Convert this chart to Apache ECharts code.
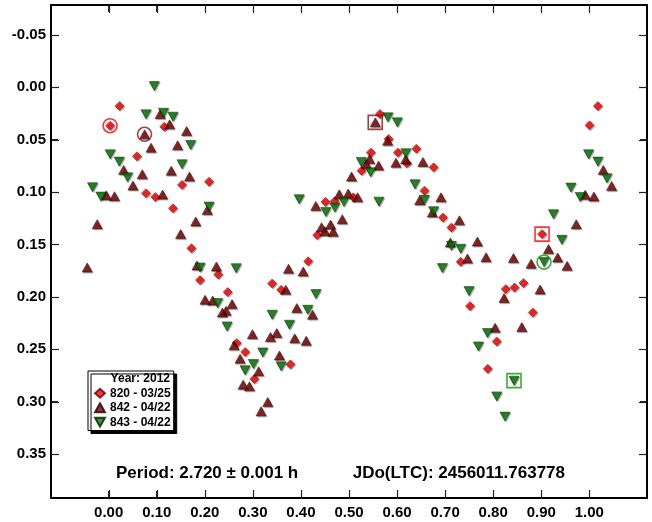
<!DOCTYPE html>
<html><head><meta charset="utf-8">
<script src="https://cdn.jsdelivr.net/npm/echarts@6/dist/echarts.min.js"></script>
<style>html,body{margin:0;padding:0;background:#fff}#c{width:652px;height:522px}</style>
</head><body><div id="c"></div>
<script>
const seriesNames = ['820 - 03/25', '842 - 04/22', '843 - 04/22'];
const legendTitle = 'Year: 2012';
const infoPeriod = 'Period: 2.720 ± 0.001 h';
const infoEpoch = 'JDo(LTC): 2456011.763778';
const xTicks = [0, 0.1, 0.2, 0.3, 0.4, 0.5, 0.6, 0.7, 0.8, 0.9, 1.0];
const yTicks = [-0.05, 0, 0.05, 0.1, 0.15, 0.2, 0.25, 0.3, 0.35];
const xRange = [-0.12, 1.12];
const yRange = [-0.0786, 0.392];

const s820 = [
[0.0225,0.0178],[0.003,0.0366],[0.1156,0.0375],[0.0587,0.0658],[0.2087,0.090],[0.1525,0.0931],
[0.0775,0.101],[0.0969,0.1046],[0.1337,0.1154],[0.172,0.1535],[0.415,0.166],[0.19,0.184],
[0.228,0.1786],[0.34,0.1872],[0.3587,0.1932],[0.2476,0.1954],[0.2663,0.244],[0.284,0.2526],
[0.378,0.2644],[0.303,0.2784],[0.5642,0.0255],[0.5823,0.0493],[0.5454,0.0623],[0.6017,0.0623],
[0.64,0.0585],[0.6204,0.0725],[0.676,0.0763],[0.526,0.0795],[0.657,0.0986],[0.451,0.1093],
[0.47,0.1087],[0.5088,0.1049],[0.6954,0.1243],[0.713,0.1338],[0.4337,0.141],[0.7323,0.1665],
[1.0177,0.0178],[1.0004,0.0362],[0.9017,0.1401],[0.826,0.1926],[0.8442,0.191],[0.8629,0.1868],
[0.7517,0.2088],[0.8823,0.2149],[0.8073,0.2425],[0.7885,0.2686]
];
const s842 = [
[0.107,0.0255],[0.1267,0.0353],[0.0746,0.0448],[0.162,0.0417],[0.088,0.0576],[0.1433,0.0553],
[0.031,0.0788],[0.0698,0.083],[0.130,0.0795],[0.168,0.0852],[0.0504,0.0938],[-0.0052,0.103],
[0.012,0.1039],[0.112,0.1024],[0.205,0.117],[0.181,0.128],[-0.024,0.1306],[0.1496,0.140],
[-0.0448,0.172],[0.1837,0.170],[0.224,0.171],[0.374,0.1732],[0.4046,0.1758],[0.3684,0.1932],
[0.2004,0.2028],[0.2163,0.2034],[0.2566,0.2069],[0.244,0.2133],[0.2365,0.2149],[0.3913,0.2107],
[0.424,0.217],[0.299,0.2356],[0.3496,0.2345],[0.3365,0.2383],[0.387,0.2396],[0.4108,0.2419],
[0.2608,0.2463],[0.2733,0.259],[0.3552,0.2559],[0.312,0.271],[0.2796,0.2838],[0.2927,0.2854],
[0.3308,0.3003],[0.317,0.3092],[0.5546,0.0334],[0.5802,0.0509],[0.5427,0.0684],[0.5358,0.0731],
[0.5615,0.0747],[0.5975,0.0719],[0.6177,0.0686],[0.6537,0.0712],[0.5052,0.0852],[0.4796,0.1020],
[0.4983,0.1014],[0.5177,0.1049],[0.4308,0.1132],[0.6469,0.1077],[0.6912,0.1049],[0.6733,0.1195],
[0.4858,0.1259],[0.4427,0.1335],[0.4615,0.131],[0.4496,0.1373],[0.467,0.1379],[0.7296,0.1269],
[0.7108,0.1481],[0.7463,0.1634],[1.0288,0.0788],[1.0462,0.0941],[0.9913,0.1026],[1.0094,0.1042],
[0.9726,0.1306],[0.767,0.1472],[0.785,0.1621],[0.842,0.163],[0.915,0.1544],[0.934,0.1624],
[0.8788,0.1684],[0.9537,0.1704],[0.8975,0.1929],[0.8225,0.2011],[0.8038,0.2295],[0.8594,0.2288]
];
const s843 = [
[0.0948,-0.0012],[0.0775,0.0257],[0.114,0.0242],[0.1337,0.028],[0.1705,0.055],[0.003,0.0639],
[0.0219,0.0709],[0.1525,0.0734],[0.0392,0.0858],[-0.0337,0.0953],[-0.0163,0.1043],[0.2087,0.1138],
[0.19,0.172],[0.265,0.1726],[0.431,0.1973],[0.2267,0.2059],[0.4142,0.2123],[0.34,0.217],
[0.376,0.2266],[0.2462,0.2282],[0.3204,0.253],[0.301,0.2641],[0.3587,0.2663],[0.2837,0.270],
[0.5808,0.0286],[0.6004,0.0334],[0.6183,0.0629],[0.5254,0.0712],[0.5448,0.081],[0.6371,0.0925],
[0.3962,0.1068],[0.5621,0.1091],[0.4517,0.1189],[0.4704,0.1148],[0.4892,0.1093],[0.6567,0.1074],
[0.676,0.1182],[0.7129,0.1513],[0.7323,0.1541],[0.6942,0.1725],[0.9983,0.0639],[1.0177,0.0709],
[1.0365,0.0868],[0.9615,0.0957],[0.9808,0.1046],[0.9254,0.1211],[0.9427,0.1455],[0.9058,0.1668],
[0.7496,0.1945],[0.788,0.2345],[0.7692,0.2473],[0.8433,0.280],[0.8073,0.295],[0.8246,0.3143]
];
const ring820 = [[0.003,0.0366]];
const box820 = [[0.9017,0.1401]];
const ring842 = [[0.0746,0.0448]];
const box842 = [[0.5546,0.0334]];
const ring843 = [[0.9058,0.1668]];
const box843 = [[0.8433,0.280]];

const FONT = "'Liberation Sans', Arial, sans-serif";
const C820 = '#ff0000', C842 = '#800000', C843 = '#008000';
const markShadow = {shadowColor:'rgba(0,0,0,0.45)', shadowOffsetX:1, shadowOffsetY:1, shadowBlur:1};
const fmt = v => v.toFixed(2);
const TICK_LEN = 7, TICK_COLOR = '#222222';

function axisX(pos, showLabel) {
  return {type:'value', min:xRange[0], max:xRange[1], position:pos,
    axisLine:{show:true, onZero:false, lineStyle:{color:'#000', width:2}}, splitLine:{show:false},
    axisTick:{show:true, inside:true, length:TICK_LEN, customValues:xTicks, lineStyle:{color:TICK_COLOR}},
    axisLabel:{show:showLabel, customValues:xTicks, formatter:fmt, fontSize:15, fontWeight:'bold', fontFamily:FONT, color:'#000', margin:7}};
}
function axisY(pos, showLabel) {
  return {type:'value', inverse:true, min:yRange[0], max:yRange[1], position:pos,
    axisLine:{show:true, onZero:false, lineStyle:{color:'#000', width:2}}, splitLine:{show:false},
    axisTick:{show:true, inside:true, length:TICK_LEN, customValues:yTicks, lineStyle:{color:TICK_COLOR}},
    axisLabel:{show:showLabel, customValues:yTicks, formatter:fmt, fontSize:15, fontWeight:'bold', fontFamily:FONT, color:'#000', margin:5}};
}
function ringSeries(data, symbol, color) {
  return {type:'scatter', data:data, symbol:symbol, symbolSize:14, silent:true, z:5,
    itemStyle:{color:'rgba(0,0,0,0)', borderColor:color, borderWidth:1.6}};
}
function tickSeg(x1, y1, x2, y2) {
  return {type:'line', shape:{x1:x1, y1:y1, x2:x2, y2:y2}, style:{stroke:TICK_COLOR, lineWidth:1.2, fill:null}};
}
// tick marks on all four sides, placed through the axes' own scales
function tickSeries(ticks, isX) {
  return {type:'custom', silent:true, clip:false, z:6, legendHoverLink:false,
    data: ticks.map(v => isX ? [v, yRange[0]] : [xRange[0], v]),
    encode:{x:0, y:1},
    renderItem: function (params, api) {
      if (isX) {
        const v = api.value(0);
        const top = api.coord([v, yRange[0]]);
        const bot = api.coord([v, yRange[1]]);
        const px = Math.round(top[0]) + 0.5;
        return {type:'group', children:[
          tickSeg(px, bot[1] - 1, px, bot[1] - 1 - TICK_LEN),
          tickSeg(px, top[1] + 1, px, top[1] + 1 + TICK_LEN)]};
      }
      const v = api.value(1);
      const left = api.coord([xRange[0], v]);
      const right = api.coord([xRange[1], v]);
      const py = Math.round(left[1]) + 0.5;
      return {type:'group', children:[
        tickSeg(left[0] + 1, py, left[0] + 1 + TICK_LEN, py),
        tickSeg(right[0] - 1, py, right[0] - 1 - TICK_LEN, py)]};
    }};
}

const chart = echarts.init(document.getElementById('c'), null, {renderer:'canvas'});
chart.setOption({
  animation:false,
  backgroundColor:'#fff',
  grid:{left:51, top:5, width:596, height:493, show:false},
  xAxis:[axisX('bottom', true), axisX('top', false)],
  yAxis:[axisY('left', true), axisY('right', false)],
  legend:{data:seriesNames, orient:'vertical', left:88, top:371, padding:[15,3,1,6], itemGap:0,
    itemWidth:10, itemHeight:9, selectedMode:false,
    textStyle:{fontSize:12, fontWeight:'bold', fontFamily:FONT, color:'#000', lineHeight:14.5},
    backgroundColor:'#fff', borderColor:'#000', borderWidth:1,
    shadowColor:'#000', shadowOffsetX:3, shadowOffsetY:3, shadowBlur:0},
  graphic:[
    {type:'text', x:170, y:379, z:100, style:{text:legendTitle, textAlign:'right', textVerticalAlign:'middle', font:'bold 12px ' + FONT, fill:'#000'}},
    {type:'text', x:116, y:473, z:100, style:{text:infoPeriod, textAlign:'left', textVerticalAlign:'middle', font:'bold 17px ' + FONT, fill:'#000'}},
    {type:'text', x:565, y:473, z:100, style:{text:infoEpoch, textAlign:'right', textVerticalAlign:'middle', font:'bold 17px ' + FONT, fill:'#000'}}
  ],
  series:[
    {name:seriesNames[0], type:'scatter', data:s820, symbol:'diamond', symbolSize:[9,9],
      itemStyle:Object.assign({color:C820, borderColor:'#600', borderWidth:0.5}, markShadow)},
    {name:seriesNames[1], type:'scatter', data:s842, symbol:'triangle', symbolSize:[10,9],
      itemStyle:Object.assign({color:C842, borderColor:'#200', borderWidth:0.6}, markShadow)},
    {name:seriesNames[2], type:'scatter', data:s843, symbol:'path://M0,0L10,0L5,9Z', symbolSize:[10,9],
      itemStyle:Object.assign({color:C843, borderColor:'#020', borderWidth:0.6}, markShadow)},
    ringSeries(ring820, 'circle', '#ff0000'),
    ringSeries(box820, 'rect', '#ff0000'),
    ringSeries(ring842, 'circle', '#8b1010'),
    ringSeries(box842, 'rect', '#8b1010'),
    ringSeries(ring843, 'circle', '#0a960a'),
    ringSeries(box843, 'rect', '#0a960a'),
    tickSeries(xTicks, true),
    tickSeries(yTicks, false)
  ]
});
</script></body></html>
